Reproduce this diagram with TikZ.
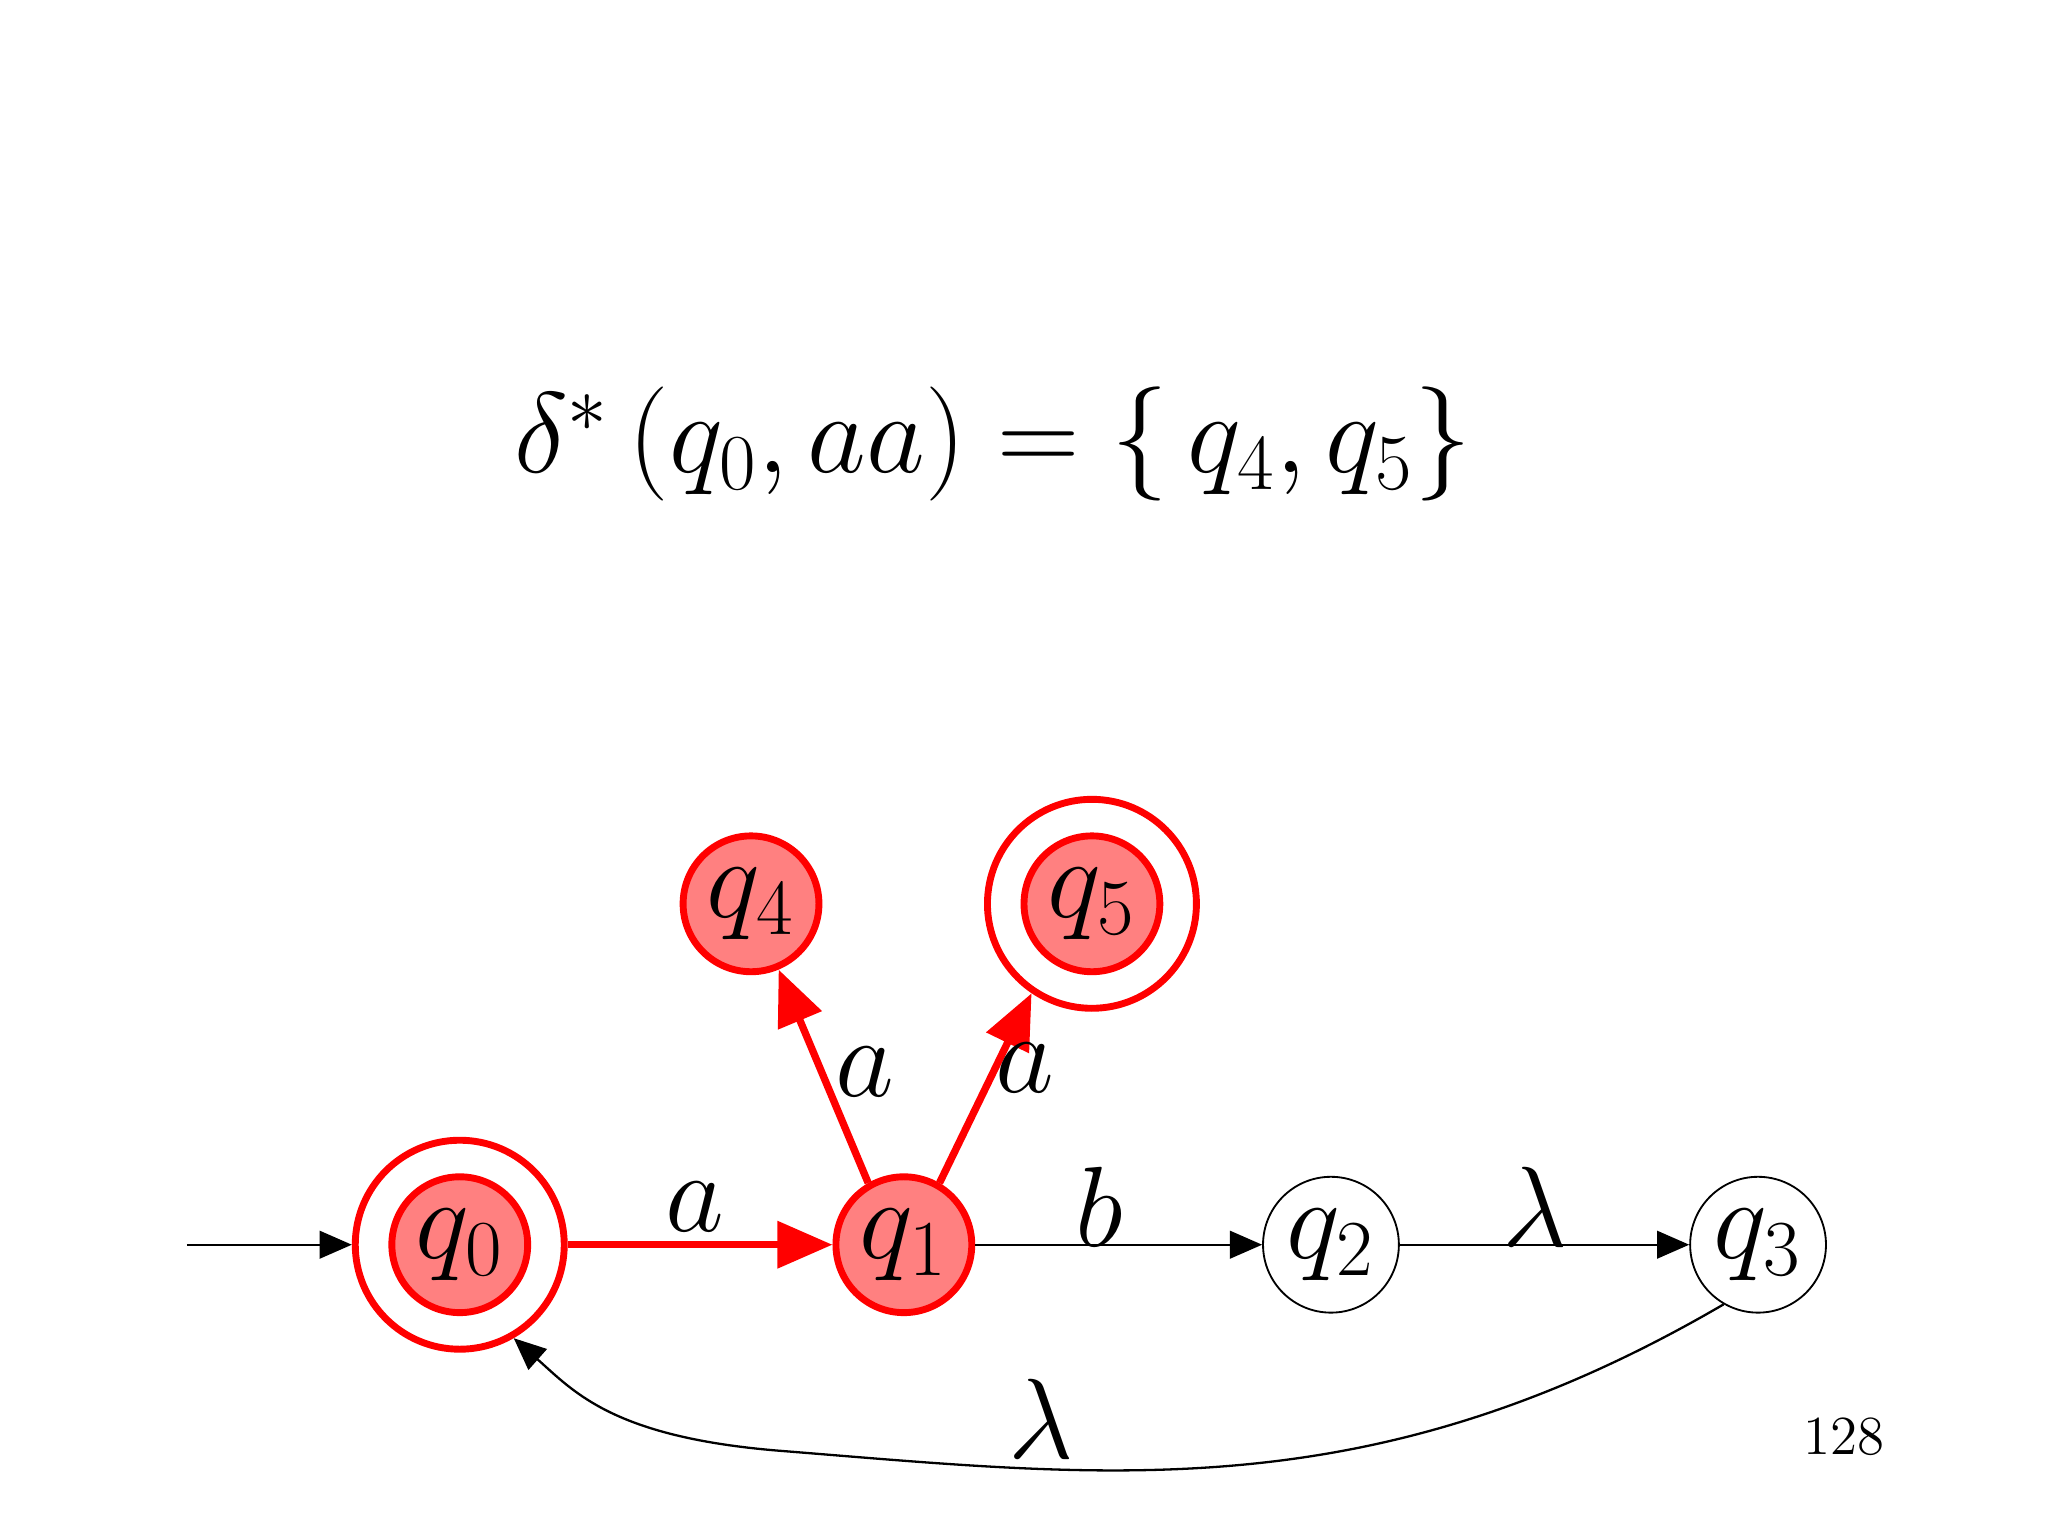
\documentclass[tikz,border=0pt]{standalone}
\usetikzlibrary{arrows.meta}
\begin{document}
\begin{tikzpicture}[
  st/.style={circle,draw,line width=0.4pt,minimum size=1.04cm,inner sep=0pt,font=\fontsize{26}{30}\selectfont},
  hst/.style={st,draw=red,fill=red!50,line width=1.5pt},
  ring/.style={circle,draw=red,line width=1.5pt,minimum size=1.6cm,inner sep=0pt},
  blk/.style={-{Triangle[length=7pt,width=6pt]},line width=0.5pt},
  red/.style={-{Triangle[length=12pt,width=10pt]},draw=red,line width=1.6pt},
  lab/.style={font=\fontsize{26}{30}\selectfont}]
\useasboundingbox (0,0) rectangle (15.68,11.76);
\node[lab] (f) at (7.6,8.36) {$\delta^*\,(q_0,aa)=\{\,q_4,q_5\}$};
\node[ring] (q0o) at (3.52,2.23) {};
\node[hst] (q0) at (3.52,2.23) {$q_0$};
\node[hst] (q1) at (6.92,2.23) {$q_1$};
\node[st] (q2) at (10.19,2.23) {$q_2$};
\node[st] (q3) at (13.46,2.23) {$q_3$};
\node[hst] (q4) at (5.75,4.84) {$q_4$};
\node[ring] (q5o) at (8.36,4.84) {};
\node[hst] (q5) at (8.36,4.84) {$q_5$};
\coordinate (s) at (1.43,2.23);
\draw[blk] (s) -- (q0o);
\draw[red] (q0o) -- (q1);
\draw[blk] (q1) -- (q2);
\draw[blk] (q2) -- (q3);
\draw[red] (q1.120) -- (q4);
\draw[red] (q1.60) -- (q5o.236);
\draw[blk] (q3.240) .. controls (10.5,0.2) and (8.5,0.45) .. (6,0.65) .. controls (4.7,0.75) and (4.4,1.1) .. (q0o.-60);
\node[lab] (la) at (5.32,2.52) {$a$};
\node[lab] (lb) at (8.42,2.52) {$b$};
\node[lab] (ll) at (11.75,2.52) {$\lambda$};
\node[lab] (la2) at (6.62,3.55) {$a$};
\node[lab] (la3) at (7.85,3.58) {$a$};
\node[lab] (ll2) at (7.97,0.9) {$\lambda$};
\node[font=\fontsize{12}{14}\selectfont] (pg) at (14.12,0.76) {128};
\end{tikzpicture}
\end{document}
